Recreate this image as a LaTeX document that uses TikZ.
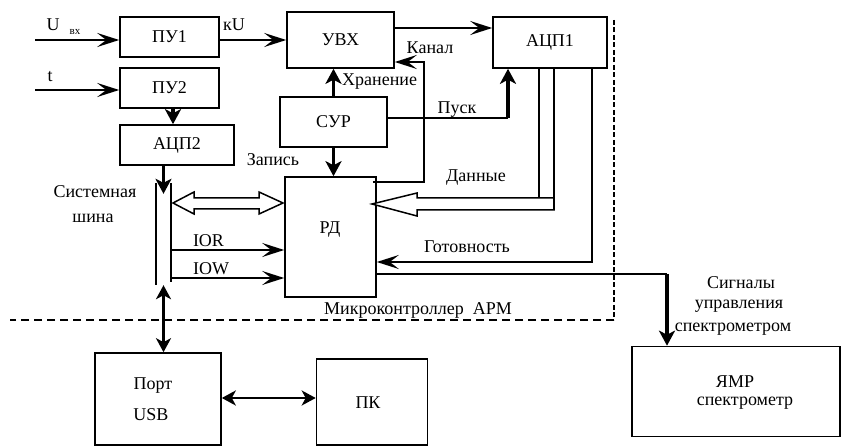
\documentclass[tikz,border=0pt]{standalone}
\usepackage{fontspec}
\setmainfont{Liberation Serif}
\usetikzlibrary{arrows.meta}
\begin{document}
\begin{tikzpicture}[x=1pt,y=-1pt,
  every node/.style={font=\fontsize{18}{20}\selectfont, inner sep=0pt},
  box/.style={draw, line width=1.6pt},
  wire/.style={line width=1.6pt},
  barb/.style={line width=2.2pt, -{Stealth[length=22pt,width=14pt,inset=9pt]}},
  fat/.style={line width=3.2pt, -{Stealth[length=15pt,width=16pt,inset=4pt]}},
  fatboth/.style={line width=3pt, {Stealth[length=14pt,width=15pt,inset=4pt]}-{Stealth[length=14pt,width=15pt,inset=4pt]}},
  hollow/.style={draw, line width=1.5pt, fill=white},
  smalltxt/.style={font=\fontsize{11}{12}\selectfont},
]
\useasboundingbox (0,0) rectangle (841,446);

% boxes
\node[box, minimum width=99pt, minimum height=40pt] (pu1) at (169.5,37) {ПУ1};
\node[box, minimum width=99pt, minimum height=40pt] (pu2) at (169.5,88) {ПУ2};
\node[box, minimum width=114pt, minimum height=40pt] (adc2) at (177,145) {АЦП2};
\node[box, minimum width=107pt, minimum height=56pt] (uvx) at (340.5,40) {УВХ};
\node[box, minimum width=114pt, minimum height=51pt] (adc1) at (550,42.5) {АЦП1};
\node[box, minimum width=107pt, minimum height=50pt] (sur) at (333.5,122) {СУР};
\node[box, minimum width=91pt, minimum height=120pt] (rd) at (330.5,237) {};
\node (rdt) at (330,230) {РД};
\node[box, minimum width=126pt, minimum height=92pt] (usb) at (158,399) {};
\node (usbt1) at (153,386) {Порт};
\node (usbt2) at (151,415) {USB};
\node[box, minimum width=111pt, minimum height=86pt] (pk) at (372,402) {};
\node (pkt) at (368,403) {ПК};
\node[box, minimum width=208pt, minimum height=90pt] (nmr) at (736,391.5) {};
\node (nmrt1) at (735,382) {ЯМР};
\node (nmrt2) at (745,403) {спектрометр};

% system bus
\node[minimum width=15pt, minimum height=102pt] (bus) at (163.5,234) {};
\draw[wire] (bus.north west) -- (bus.south west);
\draw[wire] (bus.north east) -- ([yshift=3pt]bus.south east);

% dashed frame
\coordinate (fr1) at (614,20);
\coordinate (fr2) at (614,320);
\coordinate (fr3) at (10,320);
\draw[line width=2.8pt, dash pattern=on 5pt off 2.5pt] (fr1) -- (fr2);
\draw[line width=2.4pt, dash pattern=on 8pt off 5pt] (fr2) -- (fr3);

% inputs
\coordinate (uin) at (35,40);
\coordinate (tin) at (35,90);
\draw[barb] (uin) -- (uin -| pu1.west);
\draw[barb] (tin) -- (tin -| pu2.west);
\node (ulab) at (53,25) {U};
\node[smalltxt] (ulabsub) at (75,32) {вх};
\node (tlab) at (50,77) {t};

\draw[barb] (pu1.east |- uin) -- (uvx.west |- uin);
\node (ku) at (234,25) {кU};

\coordinate (pu2x) at (173,0);
\draw[fat] (pu2.south -| pu2x) -- (adc2.north -| pu2x);
\draw[fat] (bus.north |- adc2.south) -- ([yshift=-11pt]bus.north);
\draw[fatboth] (bus.south) -- (bus.south |- usb.north);

% bus to RD
\draw[hollow] (173,203) -- (194,192) -- (194,198) -- (259,198) -- (259,192) -- (283,203)
  -- (259,214) -- (259,209) -- (194,209) -- (194,214) -- cycle;
\coordinate (ior) at (0,250);
\coordinate (iow) at (0,278);
\draw[barb] (bus.east |- ior) -- (rd.west |- ior);
\draw[barb] (bus.east |- iow) -- (rd.west |- iow);
\node (iorl) at (208.5,241) {IOR};
\node (iowl) at (211,269) {IOW};
\node (sys1) at (95,192) {Системная};
\node (sys2) at (93,218) {шина};

% UVX -> ADC1
\coordinate (uv) at (0,28);
\draw[barb] (uvx.east |- uv) -- (adc1.west |- uv);

% Kanal
\coordinate (kan1) at (424,182);
\coordinate (kan2) at (424,62);
\draw[barb] ([xshift=-4pt]rd.east |- kan1) -- (kan1) -- (kan2) -- (uvx.east |- kan2);
\node (kanl) at (430,48) {Канал};

% Hranenie, Zapis
\draw[fat] (sur.north) -- (sur.north |- uvx.south);
\node[anchor=west] (hran) at (342,82) {Хранение};
\draw[fat] (sur.south) -- (sur.south |- rd.north);
\node (zap) at (273,160) {Запись};

% Pusk
\coordinate (pusk) at (508,118);
\draw[wire] (sur.east |- pusk) -- (pusk);
\draw[fat] (pusk) -- (adc1.south -| pusk);
\node (puskl) at (457,110) {Пуск};

% Dannye
\coordinate (d1) at (539,198);
\coordinate (d2) at (554,210);
\draw[wire] (adc1.south -| d1) -- (d1);
\draw[hollow] (372,204) -- (417,193) -- (417,198) -- (554,198) -- (d2) -- (417,210) -- (417,216) -- cycle;
\draw[wire] (adc1.south -| d2) -- (d2);
\node (dan) at (476,178) {Данные};

% Gotovnost
\coordinate (g1) at (592,262);
\draw[barb] (adc1.south -| g1) -- (g1) -- (rd.east |- g1);
\node (got) at (467,247) {Готовность};

% control signals
\coordinate (s1) at (667,274);
\draw[wire] (rd.east |- s1) -- (s1);
\draw[fat] (s1) -- (nmr.north -| s1);
\node (sig1) at (741,283) {Сигналы};
\node (sig2) at (739,306) {управления};
\node (sig3) at (733,329) {спектрометром};

% USB <-> PK
\coordinate (up) at (0,398);
\draw[line width=2.6pt, {Stealth[length=14pt,width=15pt,inset=4pt]}-{Stealth[length=14pt,width=15pt,inset=4pt]}] (usb.east |- up) -- (pk.west |- up);

\node (mk) at (418,310) {Микроконтроллер\ \ АРМ};
\end{tikzpicture}
\end{document}
